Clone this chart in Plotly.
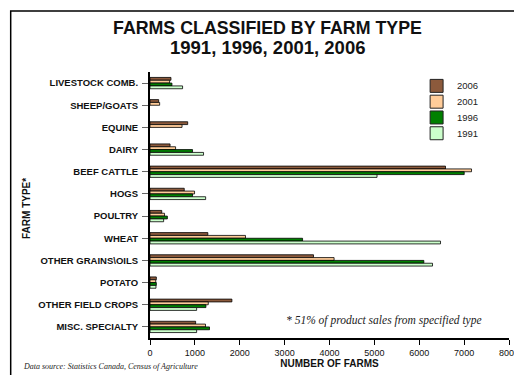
import plotly.graph_objects as go

categories = ["LIVESTOCK COMB.", "SHEEP/GOATS", "EQUINE", "DAIRY", "BEEF CATTLE", "HOGS",
              "POULTRY", "WHEAT", "OTHER GRAINS\\OILS", "POTATO", "OTHER FIELD CROPS",
              "MISC. SPECIALTY"]
years = ["2006", "2001", "1996", "1991"]
farms_2006 = [467, 193, 840, 447, 6585, 763, 262, 1289, 3644, 141, 1825, 1017]
farms_2001 = [437, 215, 714, 570, 7165, 993, 324, 2128, 4102, 128, 1298, 1237]
farms_1996 = [489, None, None, 948, 7002, 948, 387, 3400, 6102, 141, 1246, 1326]
farms_1991 = [726, None, None, 1193, 5059, 1240, 304, 6474, 6296, 133, 1039, 1039]
colors = ["#8C5A3C", "#FFCC99", "#008000", "#CCFFCC"]
x_ticks = [0, 1000, 2000, 3000, 4000, 5000, 6000, 7000, 8000]

series = [farms_2006, farms_2001, farms_1996, farms_1991]

fig = go.Figure()
for yr, vals, col in zip(years, series, colors):
    fig.add_trace(go.Bar(
        y=categories, x=vals, name=yr, orientation="h",
        marker=dict(color=col, line=dict(color="black", width=0.8)),
        showlegend=False,
    ))

W, H = 514, 375
L, R, T, B = 150, 4.5, 71.6, 37.2
pw = W - L - R
ph = H - T - B

def px(xp):
    return (xp - L) / pw

def py(yp):
    return (H - B - yp) / ph

shapes = [dict(type="rect", xref="paper", yref="paper",
               x0=px(10.5), x1=px(530), y0=py(400), y1=py(10.5),
               line=dict(color="black", width=1.5), fillcolor="rgba(0,0,0,0)", layer="above")]
annotations = [
    dict(text="<b>FARMS CLASSIFIED BY FARM TYPE</b>", x=px(267.5), y=py(27.5),
         xref="paper", yref="paper", showarrow=False, xanchor="center", yanchor="middle",
         font=dict(size=17.8, color="#111111")),
    dict(text="<b>1991, 1996, 2001, 2006</b>", x=px(267.5), y=py(46.8),
         xref="paper", yref="paper", showarrow=False, xanchor="center", yanchor="middle",
         font=dict(size=18.5, color="#111111")),
    dict(text="<b>FARM TYPE*</b>", x=px(26.5), y=py(208), textangle=-90,
         xref="paper", yref="paper", showarrow=False, xanchor="center", yanchor="middle",
         font=dict(size=10, color="#111111")),
    dict(text="<i>* 51% of product sales from specified type</i>", x=px(384), y=py(320),
         xref="paper", yref="paper", showarrow=False, xanchor="center", yanchor="middle",
         font=dict(size=11.5, family="Liberation Serif, Times New Roman, serif", color="#222222")),
    dict(text="<i>Data source: Statistics Canada, Census of Agriculture</i>", x=px(21), y=py(366),
         xref="paper", yref="paper", showarrow=False, xanchor="left", yanchor="middle",
         font=dict(size=8, family="Liberation Serif, Times New Roman, serif", color="#222222")),
]

# legend drawn as key boxes + labels
leg_y = [85.5, 101.3, 117.1, 132.9]
for yr, col, yc in zip(years, colors, leg_y):
    shapes.append(dict(type="rect", xref="paper", yref="paper",
                       x0=px(430.5), x1=px(443.5), y0=py(yc + 6.5), y1=py(yc - 6.5),
                       line=dict(color="#222222", width=1), fillcolor=col, layer="above"))
    annotations.append(dict(text=yr, x=px(455), y=py(yc), xref="paper", yref="paper",
                            showarrow=False, xanchor="left", yanchor="middle",
                            font=dict(size=9.5, color="#222222")))

fig.update_layout(
    width=W, height=H,
    margin=dict(l=L, r=R, t=T, b=B, pad=0, autoexpand=False),
    paper_bgcolor="white", plot_bgcolor="white",
    barmode="group", bargap=0.49, bargroupgap=0,
    font=dict(family="Liberation Sans, Arial, sans-serif", color="#111111", size=9),
    showlegend=False,
    xaxis=dict(range=[0, 8000], tickvals=x_ticks, ticktext=[str(v) for v in x_ticks],
               showgrid=False, zeroline=False, showline=True, linecolor="black", linewidth=2,
               ticks="outside", ticklen=5, tickcolor="black", tickwidth=1,
               tickfont=dict(size=9), fixedrange=True, ticklabeloverflow="allow",
               automargin=False,
               title=dict(text="<b>NUMBER OF FARMS</b>", font=dict(size=10), standoff=3)),
    yaxis=dict(categoryorder="array", categoryarray=categories, autorange="reversed",
               showgrid=False, zeroline=False, showline=True, linecolor="black", linewidth=2,
               ticks="outside", ticklen=6, tickcolor="#666666", tickwidth=1,
               ticklabelstandoff=2, automargin=False,
               tickfont=dict(size=9.5, family="Liberation Sans, Arial, sans-serif"),
               tickprefix="<b>", ticksuffix="</b>", fixedrange=True),
    shapes=shapes,
    annotations=annotations,
)

fig.write_html("out.html")
